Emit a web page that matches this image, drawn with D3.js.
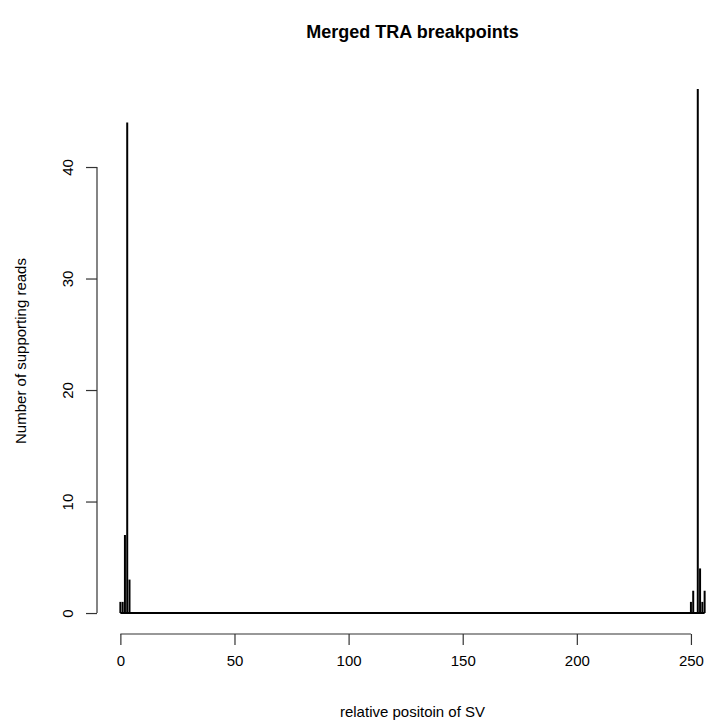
<!DOCTYPE html>
<html>
<head>
<meta charset="utf-8">
<script src="https://cdn.jsdelivr.net/npm/d3@7"></script>
<style>
  body { margin: 0; background: #fff; }
  svg text { font-family: "Liberation Sans", Arial, Helvetica, sans-serif; fill: #000; }
</style>
</head>
<body>
<svg id="chart" width="707" height="720"></svg>
<script>
  // breakpoint positions and read counts
  const positions = [0, 1, 2, 3, 4, 250, 251, 253, 254, 255, 256];
  const reads     = [1, 1, 7, 44, 3, 1, 2, 47, 4, 1, 2];
  const xTicks = [0, 50, 100, 150, 200, 250];
  const yTicks = [0, 10, 20, 30, 40];

  const svg = d3.select("#chart");
  const plot = { left: 97, right: 728, top: 68, bottom: 634 };

  // R style 4% padding on both axes
  const xMin = d3.min(positions), xMax = d3.max(positions);
  const xPad = (xMax - xMin) * 0.04;
  const x = d3.scaleLinear().domain([xMin - xPad, xMax + xPad]).range([plot.left, plot.right]);
  const yMax = d3.max(reads);
  const yPad = yMax * 0.04;
  const y = d3.scaleLinear().domain([-yPad, yMax + yPad]).range([plot.bottom, plot.top]);

  const data = positions.map((p, i) => ({ pos: p, n: reads[i] }));

  // baseline at zero
  svg.append("line")
    .attr("x1", x(xMin)).attr("x2", x(xMax))
    .attr("y1", y(0)).attr("y2", y(0))
    .attr("stroke", "#000").attr("stroke-width", 2);

  // spikes
  svg.selectAll(".spike")
    .data(data)
    .enter().append("line")
    .attr("class", "spike")
    .attr("x1", d => x(d.pos)).attr("x2", d => x(d.pos))
    .attr("y1", y(0)).attr("y2", d => y(d.n))
    .attr("stroke", "#000").attr("stroke-width", 2);

  // X axis
  const gx = svg.append("g").attr("transform", `translate(0,${plot.bottom})`)
    .call(d3.axisBottom(x).tickValues(xTicks).tickSize(11).tickPadding(10));
  gx.select(".domain").remove();
  gx.append("line")
    .attr("x1", x(xTicks[0])).attr("x2", x(xTicks[xTicks.length - 1]))
    .attr("stroke", "#333").attr("stroke-width", 1.2);
  gx.selectAll(".tick line").attr("stroke", "#333").attr("stroke-width", 1.2);
  gx.selectAll("text").attr("font-size", 15).attr("font-family", "Liberation Sans, Arial, sans-serif").attr("fill", "#000");

  // Y axis
  const gy = svg.append("g").attr("transform", `translate(${plot.left},0)`)
    .call(d3.axisLeft(y).tickValues(yTicks).tickSize(11));
  gy.select(".domain").remove();
  gy.append("line")
    .attr("y1", y(yTicks[0])).attr("y2", y(yTicks[yTicks.length - 1]))
    .attr("stroke", "#333").attr("stroke-width", 1.2);
  gy.selectAll(".tick line").attr("stroke", "#333").attr("stroke-width", 1.2);
  gy.selectAll("text")
    .attr("font-size", 15).attr("font-family", "Liberation Sans, Arial, sans-serif").attr("fill", "#000")
    .attr("x", null).attr("dy", null)
    .attr("text-anchor", "middle")
    .attr("transform", "translate(-24,0) rotate(-90)");

  // titles
  const cx = (plot.left + plot.right) / 2;
  svg.append("text").attr("x", cx).attr("y", 38)
    .attr("text-anchor", "middle").attr("font-size", 18).attr("font-weight", "bold")
    .text("Merged TRA breakpoints");
  svg.append("text").attr("x", cx).attr("y", 717)
    .attr("text-anchor", "middle").attr("font-size", 15)
    .text("relative positoin of SV");
  svg.append("text")
    .attr("transform", `translate(26,${(plot.top + plot.bottom) / 2}) rotate(-90)`)
    .attr("text-anchor", "middle").attr("font-size", 15)
    .text("Number of supporting reads");
</script>
</body>
</html>
